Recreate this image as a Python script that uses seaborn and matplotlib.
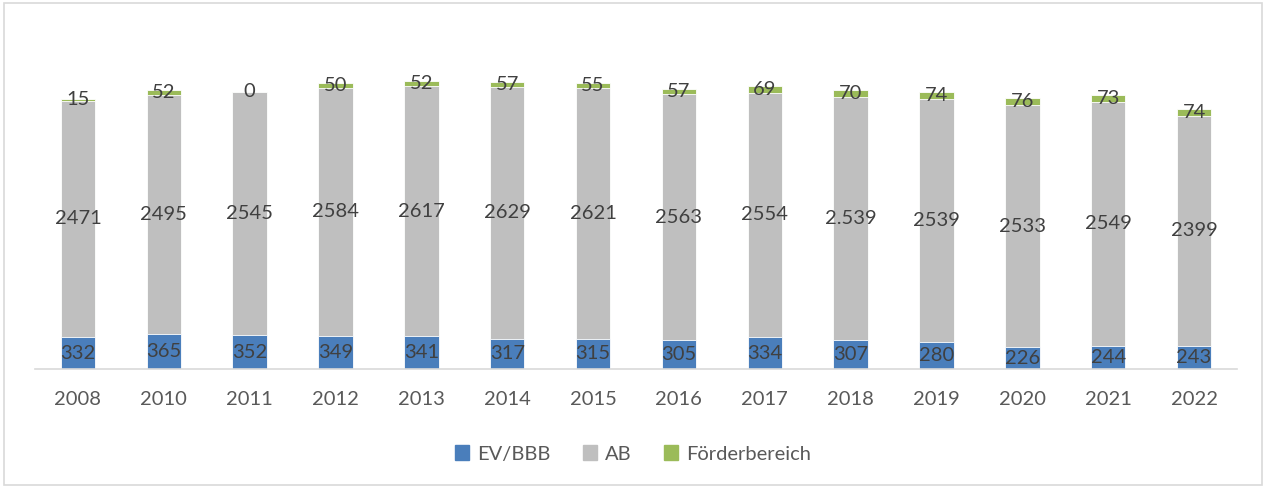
import matplotlib
matplotlib.use("Agg")
import matplotlib.pyplot as plt
import matplotlib.patches as mpatches
import seaborn as sns
import pandas as pd

years = ["2008", "2010", "2011", "2012", "2013", "2014", "2015",
         "2016", "2017", "2018", "2019", "2020", "2021", "2022"]
ev_bbb = [332, 365, 352, 349, 341, 317, 315, 305, 334, 307, 280, 226, 244, 243]
ab = [2471, 2495, 2545, 2584, 2617, 2629, 2621, 2563, 2554, 2539, 2539, 2533, 2549, 2399]
foerder = [15, 52, 0, 50, 52, 57, 55, 57, 69, 70, 74, 76, 73, 74]
# the 2018 AB label is printed with a thousands separator in the source
ab_labels = [str(v) for v in ab]
ab_labels[years.index("2018")] = "2.539"

c_blue = "#4A7EBB"
c_gray = "#BFBFBF"
c_green = "#9BBB59"
txt = "#404040"

df = pd.DataFrame({"year": years, "ev": ev_bbb, "ab": ab, "f": foerder})
df["ev_ab"] = df["ev"] + df["ab"]
df["total"] = df["ev_ab"] + df["f"]

sns.set_style("white")
plt.rcParams["font.family"] = ["Lato", "DejaVu Sans"]

fig = plt.figure(figsize=(12.66, 4.88), dpi=100)
ax = fig.add_axes([35 / 1266, 119 / 488, 1202 / 1266, 335 / 488])

# stacked bars: draw cumulative totals, tallest first
for col, c in [("total", c_green), ("ev_ab", c_gray), ("ev", c_blue)]:
    sns.barplot(data=df, x="year", y=col, color=c, width=0.4, saturation=1,
                edgecolor="white", linewidth=0.6, ax=ax)

fs = 14.5
for i, row in df.iterrows():
    ax.text(i, row["ev"] / 2, str(row["ev"]), ha="center", va="center",
            fontsize=fs, color=txt)
    ax.text(i, row["ev"] + row["ab"] / 2, ab_labels[i], ha="center",
            va="center", fontsize=fs, color=txt)
    ax.text(i, row["ev_ab"] + row["f"] / 2, str(row["f"]), ha="center",
            va="center", fontsize=fs, color=txt)

ax.set_ylim(0, 3500)
ax.set_xlim(-0.5, len(years) - 0.5)
ax.set_xlabel("")
ax.set_ylabel("")
ax.set_yticks([])
for s in ["top", "right", "left"]:
    ax.spines[s].set_visible(False)
ax.spines["bottom"].set_color("#D9D9D9")
ax.spines["bottom"].set_linewidth(1.2)
ax.tick_params(axis="x", length=0, pad=16, labelsize=fs, labelcolor="#595959")

handles = [mpatches.Patch(color=c_blue, label="EV/BBB"),
           mpatches.Patch(color=c_gray, label="AB"),
           mpatches.Patch(color=c_green, label="Förderbereich")]
leg = fig.legend(handles=handles, loc="center", bbox_to_anchor=(0.5, 34 / 488),
                 ncol=3, frameon=False, fontsize=fs, handlelength=0.7,
                 handleheight=0.7, handletextpad=0.4, columnspacing=1.6)
for t in leg.get_texts():
    t.set_color("#595959")

fig.patches.append(mpatches.Rectangle((4 / 1266, 3 / 488), 1258 / 1266, 482 / 488,
                                      transform=fig.transFigure, fill=False,
                                      edgecolor="#D9D9D9", linewidth=1.2))

fig.savefig("out.png", dpi=100)
